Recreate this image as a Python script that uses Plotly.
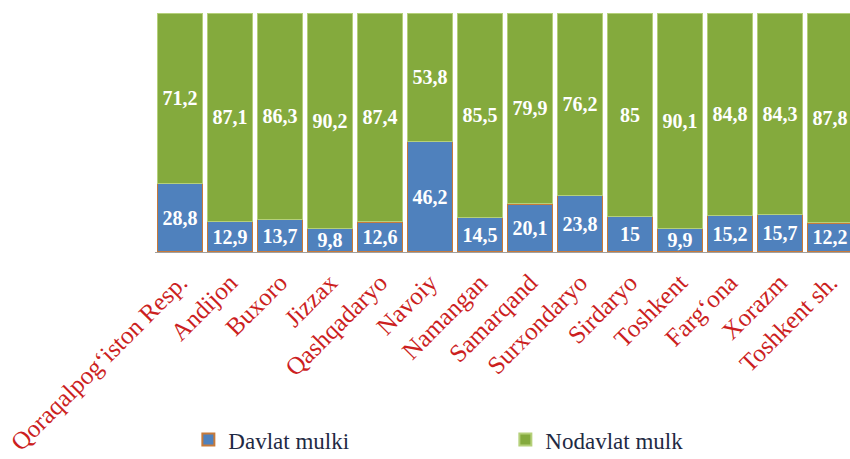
import plotly.graph_objects as go

regions = ["Qoraqalpogʻiston Resp.", "Andijon", "Buxoro", "Jizzax", "Qashqadaryo",
           "Navoiy", "Namangan", "Samarqand", "Surxondaryo", "Sirdaryo",
           "Toshkent", "Fargʻona", "Xorazm", "Toshkent sh."]
davlat = [28.8, 12.9, 13.7, 9.8, 12.6, 46.2, 14.5, 20.1, 23.8, 15, 9.9, 15.2, 15.7, 12.2]
nodavlat = [71.2, 87.1, 86.3, 90.2, 87.4, 53.8, 85.5, 79.9, 76.2, 85, 90.1, 84.8, 84.3, 87.8]


def fmt(v):
    s = f"{v:g}"
    return s.replace(".", ",")


serif = "Liberation Serif"

fig = go.Figure()
fig.add_trace(go.Bar(
    x=regions, y=davlat, name="Davlat mulki",
    text=[fmt(v) for v in davlat], textposition="inside",
    insidetextanchor="middle", textangle=0,
    textfont=dict(family=serif, size=20, color="white", weight="bold"),
    marker=dict(color="#4F81BD", line=dict(color="#C77A3A", width=1.5)),
))
fig.add_trace(go.Bar(
    x=regions, y=nodavlat, name="Nodavlat mulk",
    text=[fmt(v) for v in nodavlat], textposition="inside",
    insidetextanchor="middle", textangle=0,
    textfont=dict(family=serif, size=20, color="white", weight="bold"),
    marker=dict(color="#84AA3D", line=dict(color="#B5D07A", width=1)),
))

fig.update_layout(
    width=850, height=459,
    barmode="stack", bargap=0.1,
    margin=dict(l=155, r=0, t=13, b=207, autoexpand=False),
    paper_bgcolor="white", plot_bgcolor="white",
    uniformtext=dict(mode="show", minsize=20),
    showlegend=True,
    legend=dict(orientation="h", traceorder="normal",
                x=0.048, y=-0.785, xanchor="left", yanchor="middle",
                entrywidth=272, entrywidthmode="pixels",
                font=dict(family=serif, size=23, color="#1F2A44"),
                itemsizing="constant"),
    xaxis=dict(range=[-0.5, 13.4], tickangle=-45, automargin=False,
               tickfont=dict(family=serif, size=25, color="#CC1F1F"),
               ticklabelstandoff=5,
               showline=True, linecolor="#A0A0A0", linewidth=1,
               ticks="", showgrid=False),
    yaxis=dict(range=[0, 100], visible=False, showgrid=False),
)

fig.write_html("out.html")
